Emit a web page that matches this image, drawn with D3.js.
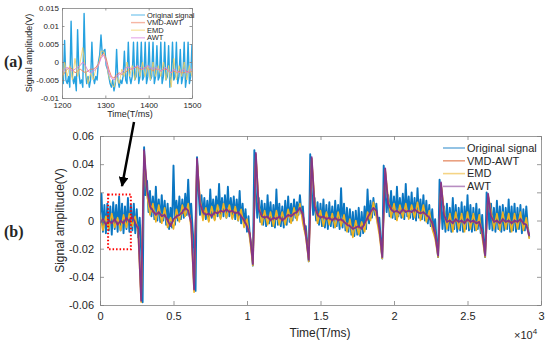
<!DOCTYPE html>
<html>
<head>
<meta charset="utf-8">
<script src="https://cdn.jsdelivr.net/npm/d3@7"></script>
<style>
  body { margin: 0; background: #fff; }
  text { font-family: "Liberation Sans", Arial, sans-serif; fill: #262626; }
  .axis text { fill: #262626; }
  .axis path, .axis line { stroke: #808080; stroke-width: 0.8; }
  .tag { font-family: "Liberation Serif", "DejaVu Serif", serif; font-weight: bold; }
</style>
</head>
<body>
<svg id="chart" width="550" height="344"></svg>
<script>
// ---- main panel (b): samples every 100 ms (original) / 200 ms (denoised)
const origStep = 100;
const origSignal = [
  0.004, 0.019, -0.008, 0.011, -0.009, 0.012, -0.007, 0.01, -0.01, 0.013,
  -0.006, 0.011, -0.008, 0.017, -0.007, 0.012, -0.009, 0.01, -0.006, 0.016,
  -0.008, 0.011, -0.007, 0.012, -0.009, 0.008, -0.012, 0.002, -0.022,
  -0.058, 0.052,
  0.018, 0.028, 0.006, 0.021, 0.003, 0.017, 0.001, 0.024, 0.0, 0.015,
  -0.001, 0.018, 0.0, 0.014, -0.003, 0.012, -0.006, 0.009, -0.005, 0.039,
  -0.003, 0.014, 0.0, 0.017, 0.001, 0.015, 0.002, 0.019, 0.004, 0.029,
  0.003, 0.012, -0.006, -0.02,
  -0.05, 0.045,
  0.022, 0.004, 0.018, 0.002, 0.016, 0.001, 0.014, 0.0, 0.022, 0.002,
  0.015, 0.001, 0.017, 0.003, 0.026, 0.002, 0.016, 0.003, 0.018, 0.002,
  0.024, 0.003, 0.016, 0.002, 0.017, 0.001, 0.015, 0.0, 0.021, -0.002,
  0.012, -0.004, 0.008, -0.008, 0.003, -0.012, -0.018,
  -0.032, 0.05,
  0.02, 0.002, 0.016, -0.001, 0.014, -0.003, 0.012, -0.004, 0.018, -0.002,
  0.013, -0.004, 0.011, -0.005, 0.022, -0.003, 0.012, -0.004, 0.01, -0.005,
  0.014, -0.003, 0.017, -0.001, 0.012, 0.0, 0.015, 0.002, 0.013, 0.004,
  0.018, 0.005, 0.01, -0.006, -0.004, -0.016,
  -0.029, 0.047,
  0.022, 0.004, 0.016, 0.0, 0.013, -0.003, 0.012, -0.004, 0.015, -0.005,
  0.011, -0.006, 0.013, -0.004, 0.01, -0.005, 0.014, -0.004, 0.011, -0.006,
  0.023, -0.005, 0.012, -0.007, 0.009, -0.008, 0.008, -0.01, 0.006, -0.011,
  0.007, -0.01, 0.009, -0.011, 0.006, -0.009, 0.01, -0.006, 0.022, -0.002,
  0.014, 0.002, 0.016, 0.004, 0.012, -0.002, 0.002, -0.014,
  -0.027, 0.039,
  0.024, 0.006, 0.018, 0.003, 0.021, 0.002, 0.017, 0.001, 0.024, 0.003,
  0.016, 0.002, 0.019, 0.001, 0.026, 0.003, 0.017, 0.002, 0.02, 0.001,
  0.016, 0.0, 0.023, 0.002, 0.015, 0.001, 0.018, 0.0, 0.014, -0.002,
  0.011, -0.004, 0.008, -0.008, 0.001, -0.015,
  -0.026, 0.029,
  0.014, -0.006, 0.01, -0.008, 0.012, -0.007, 0.009, -0.008, 0.016, -0.006,
  0.011, -0.008, 0.009, -0.007, 0.013, -0.008, 0.01, -0.006, 0.018, -0.007,
  0.011, -0.008, 0.009, -0.007, 0.012, -0.006, 0.008, -0.009, 0.004, -0.014,
  -0.026, 0.02,
  0.01, -0.006, 0.012, -0.007, 0.009, -0.008, 0.014, -0.006, 0.01, -0.008,
  0.011, -0.007, 0.009, -0.006, 0.015, -0.008, 0.01, -0.007, 0.012, -0.008,
  0.009, -0.006, 0.011, -0.009, 0.008, -0.007, 0.01, -0.004, -0.012
];

const denoiseStep = 200;
const vmdAwt = [
  -0.001, 0.0, -0.002, -0.001, -0.002, 0.0, -0.002, -0.001, -0.002, 0.001, -0.001, 0.002, -0.001, -0.005,
  -0.056, 0.049,
  0.02, 0.011, 0.006, 0.005, 0.005, 0.004, 0.003, 0.001, -0.003, 0.0, 0.002, 0.004, 0.005, 0.008, 0.008, -0.001,
  -0.048, 0.043,
  0.013, 0.007, 0.005, 0.004, 0.004, 0.005, 0.006, 0.006, 0.007, 0.007, 0.007, 0.006, 0.006, 0.005, 0.004, 0.001, -0.003, -0.009,
  -0.03, 0.047,
  0.009, 0.004, 0.002, 0.002, 0.001, 0.001, 0.002, 0.002, 0.001, 0.001, 0.003, 0.004, 0.004, 0.006, 0.008, 0.005, -0.008,
  -0.027, 0.044,
  0.011, 0.005, 0.003, 0.002, 0.002, 0.001, 0.001, 0.001, 0.001, 0.0, -0.001, -0.002, -0.004, -0.005, -0.005, -0.005, -0.005, -0.003, 0.001, 0.005, 0.008, 0.007, -0.005,
  -0.025, 0.036,
  0.013, 0.009, 0.007, 0.006, 0.006, 0.007, 0.007, 0.007, 0.006, 0.007, 0.007, 0.006, 0.005, 0.004, 0.002, -0.001, -0.008,
  -0.024, 0.026,
  0.005, 0.0, -0.001, -0.001, 0.0, -0.001, -0.001, -0.001, 0.0, -0.001, -0.001, -0.001, -0.002, -0.007,
  -0.024, 0.018,
  0.004, 0.0, -0.001, -0.001, 0.0, -0.001, -0.001, -0.001, -0.001, -0.001, 0.0, -0.002, -0.003, -0.01
];
const emd = [
  0.004, -0.007, 0.003, -0.006, 0.005, -0.005, 0.002, -0.007, 0.004, -0.005, 0.005, -0.004, 0.003, -0.01,
  -0.058, 0.049,
  0.018, 0.004, 0.012, -0.001, 0.011, -0.002, 0.009, -0.005, 0.002, -0.006, 0.008, -0.001, 0.011, 0.003, 0.012, -0.006,
  -0.051, 0.043,
  0.016, 0.0, 0.009, -0.001, 0.01, 0.0, 0.011, 0.001, 0.012, 0.002, 0.011, 0.001, 0.01, 0.0, 0.008, -0.005, 0.001, -0.014,
  -0.032, 0.047,
  0.012, -0.003, 0.007, -0.003, 0.006, -0.004, 0.007, -0.003, 0.006, -0.003, 0.008, -0.002, 0.009, 0.0, 0.012, -0.002, -0.012,
  -0.029, 0.044,
  0.014, -0.002, 0.007, -0.004, 0.006, -0.003, 0.005, -0.005, 0.006, -0.004, 0.004, -0.008, 0.001, -0.012, 0.0, -0.01, -0.001, -0.008, 0.006, 0.0, 0.013, 0.002, -0.01,
  -0.027, 0.036,
  0.016, 0.002, 0.012, 0.0, 0.011, 0.002, 0.012, 0.001, 0.011, 0.002, 0.013, 0.0, 0.011, -0.001, 0.007, -0.006, -0.013,
  -0.026, 0.026,
  0.008, -0.006, 0.005, -0.008, 0.006, -0.006, 0.005, -0.008, 0.006, -0.006, 0.005, -0.007, 0.004, -0.012,
  -0.026, 0.018,
  0.007, -0.006, 0.005, -0.007, 0.006, -0.006, 0.005, -0.008, 0.005, -0.006, 0.006, -0.007, 0.002, -0.013
];
const awt = [
  -0.002, 0.001, -0.003, 0.0, -0.002, 0.001, -0.003, 0.0, -0.002, 0.002, -0.001, 0.003, -0.002, -0.006,
  -0.057, 0.05,
  0.022, 0.01, 0.007, 0.004, 0.006, 0.003, 0.004, 0.0, -0.004, 0.001, 0.003, 0.004, 0.006, 0.009, 0.007, -0.002,
  -0.049, 0.044,
  0.012, 0.006, 0.004, 0.005, 0.003, 0.006, 0.005, 0.007, 0.006, 0.008, 0.006, 0.007, 0.005, 0.006, 0.003, 0.0, -0.004, -0.01,
  -0.031, 0.048,
  0.008, 0.003, 0.002, 0.003, 0.0, 0.002, 0.001, 0.003, 0.0, 0.002, 0.004, 0.003, 0.005, 0.006, 0.009, 0.004, -0.01,
  -0.028, 0.045,
  0.01, 0.004, 0.002, 0.003, 0.001, 0.002, 0.0, 0.002, 0.0, 0.001, -0.001, -0.003, -0.004, -0.006, -0.005, -0.004, -0.006, -0.002, 0.002, 0.006, 0.009, 0.007, -0.006,
  -0.026, 0.037,
  0.012, 0.008, 0.006, 0.007, 0.005, 0.008, 0.006, 0.007, 0.006, 0.008, 0.006, 0.005, 0.006, 0.004, 0.002, -0.002, -0.01,
  -0.025, 0.027,
  0.004, -0.001, 0.0, -0.002, 0.001, -0.001, 0.0, -0.002, 0.001, -0.001, 0.0, -0.002, -0.001, -0.008,
  -0.025, 0.019,
  0.003, -0.001, 0.0, -0.002, 0.001, -0.001, 0.0, -0.002, 0.0, -0.001, 0.001, -0.002, -0.003, -0.011
];

const xTickValues = [0, 5000, 10000, 15000, 20000, 25000, 30000];
const xTickLabels = ["0", "0.5", "1", "1.5", "2", "2.5", "3"];
const yTickValues = [-0.06, -0.04, -0.02, 0, 0.02, 0.04, 0.06];
const yTickLabels = ["-0.06", "-0.04", "-0.02", "0", "0.02", "0.04", "0.06"];
const seriesNames = ["Original signal", "VMD-AWT", "EMD", "AWT"];
const colors = ["#0a76c2", "#D95319", "#EDB120", "#7E2F8E"];
const zoomBox = { t0: 550, t1: 2100, v0: -0.0205, v1: 0.0185 };

// ---- inset panel (a): 1200..1500 ms
const insetOrigStep = 3;
const insetOrig = [
  -0.004, -0.006, 0.006, -0.005, -0.006, -0.004, -0.007, 0.0113, -0.004, -0.006,
  -0.004, -0.008, 0.009, -0.003, -0.006, -0.005, -0.007, 0.0135, -0.002, -0.006,
  -0.004, -0.007, -0.005, 0.0055, -0.004, -0.006, -0.004, -0.005, 0.0, 0.002,
  0.0075, 0.002, 0.003, 0.0035, -0.001, -0.002, -0.004, -0.006, -0.007, -0.005,
  -0.008, -0.006, 0.0035, -0.005, -0.007, -0.005, -0.006, -0.004, 0.003, -0.005,
  -0.006, 0.0055, -0.004, -0.006, -0.004, 0.0055, -0.005, -0.004, 0.0055, -0.006,
  -0.004, 0.0055, -0.005, -0.004, 0.0055, -0.006, -0.004, 0.0055, -0.005, -0.004,
  0.0055, -0.006, -0.004, 0.0045, -0.005, -0.004, 0.0055, -0.006, -0.004, 0.0055,
  -0.005, -0.004, 0.0045, -0.007, -0.004, 0.0055, -0.005, -0.004, 0.0055, -0.006,
  -0.004, 0.0035, -0.006, -0.004, 0.0055, -0.007, -0.004, 0.0055, -0.006, -0.004,
  0.005
];
const insetStep = 6;
const insetVmdAwt = [
  -0.004, -0.003, -0.002, -0.0015, -0.002, -0.003, -0.0025, -0.002, -0.0025, -0.003,
  -0.0025, -0.002, -0.002, -0.0015, -0.0005, 0.0015, 0.0025, 0.001, -0.002, -0.004,
  -0.0045, -0.0035, -0.003, -0.0035, -0.003, -0.0025, -0.002, -0.002, -0.0015, -0.0015,
  -0.002, -0.002, -0.0015, -0.002, -0.002, -0.0025, -0.002, -0.002, -0.0025, -0.002,
  -0.002, -0.0025, -0.003, -0.0025, -0.003, -0.0025, -0.003, -0.003, -0.0025, -0.003,
  -0.0025
];
const insetEmd = [
  -0.006, 0.0, -0.004, -0.001, -0.005, 0.001, -0.004, 0.0, 0.004, -0.002,
  -0.006, -0.003, -0.005, -0.002, -0.001, 0.003, 0.003, 0.0, -0.004, -0.006,
  -0.007, -0.004, -0.006, -0.002, -0.004, 0.0, -0.004, -0.001, -0.005, -0.001,
  -0.004, 0.0, -0.004, -0.001, -0.005, 0.0, -0.004, -0.001, -0.004, 0.0,
  -0.005, -0.001, -0.007, 0.001, -0.005, -0.001, -0.004, 0.0, -0.005, -0.001,
  -0.004
];
const insetAwt = [
  -0.003, -0.002, -0.0015, -0.002, -0.0025, -0.002, -0.0015, -0.001, 0.0, -0.001,
  -0.0025, -0.003, -0.0025, -0.002, -0.001, 0.001, 0.002, 0.0, -0.003, -0.0045,
  -0.005, -0.004, -0.0035, -0.003, -0.002, -0.0015, -0.0015, -0.002, -0.0015, -0.001,
  -0.0015, -0.002, -0.0015, -0.001, -0.0015, -0.002, -0.0015, -0.002, -0.0025, -0.002,
  -0.0015, -0.0025, -0.003, -0.002, -0.0025, -0.003, -0.0025, -0.002, -0.003, -0.0025,
  -0.002
];
const insetXTicks = [1200, 1300, 1400, 1500];
const insetYTicks = [-0.01, -0.005, 0, 0.005, 0.01, 0.015];
const insetYLabels = ["-0.01", "-0.005", "0", "0.005", "0.01", "0.015"];

const svg = d3.select("#chart");

function drawPanel(cfg) {
  const x = d3.scaleLinear().domain(cfg.xDomain).range([cfg.left, cfg.right]);
  const y = d3.scaleLinear().domain(cfg.yDomain).range([cfg.bottom, cfg.top]);
  const g = svg.append("g");

  g.append("clipPath").attr("id", cfg.id + "-clip")
    .append("rect")
    .attr("x", cfg.left).attr("y", cfg.top)
    .attr("width", cfg.right - cfg.left).attr("height", cfg.bottom - cfg.top);

  const lines = g.append("g").attr("clip-path", `url(#${cfg.id}-clip)`);
  const line = d3.line().x(d => x(d[0])).y(d => y(d[1]));
  cfg.series.forEach((s, i) => {
    const pts = s.values.map((v, j) => [cfg.x0 + j * s.step, v]);
    lines.append("path")
      .attr("d", line(pts))
      .attr("fill", "none")
      .attr("stroke", cfg.colors[i])
      .attr("stroke-opacity", cfg.opacity[i])
      .attr("stroke-width", cfg.widths[i])
      .attr("stroke-linejoin", "round");
  });

  const ts = cfg.tickSize;
  g.append("g").attr("class", "axis")
    .attr("transform", `translate(0,${cfg.bottom})`)
    .call(d3.axisBottom(x).tickValues(cfg.xTicks).tickFormat((d, i) => cfg.xLabels[i])
      .tickSize(-ts).tickSizeOuter(0).tickPadding(cfg.pad))
    .selectAll("text").style("font-size", cfg.font + "px");
  g.append("g").attr("class", "axis")
    .attr("transform", `translate(${cfg.left},0)`)
    .call(d3.axisLeft(y).tickValues(cfg.yTicks).tickFormat((d, i) => cfg.yLabels[i])
      .tickSize(-ts).tickSizeOuter(0).tickPadding(cfg.pad - 1))
    .selectAll("text").style("font-size", cfg.font + "px");
  g.append("g").attr("class", "axis")
    .attr("transform", `translate(0,${cfg.top})`)
    .call(d3.axisTop(x).tickValues(cfg.xTicks).tickFormat("").tickSize(-ts).tickSizeOuter(0));
  g.append("g").attr("class", "axis")
    .attr("transform", `translate(${cfg.right},0)`)
    .call(d3.axisRight(y).tickValues(cfg.yTicks).tickFormat("").tickSize(-ts).tickSizeOuter(0));

  // legend
  const lg = g.append("g");
  cfg.series.forEach((s, i) => {
    const ly = cfg.legend.y + i * cfg.legend.dy;
    lg.append("line")
      .attr("x1", cfg.legend.x).attr("x2", cfg.legend.x + cfg.legend.len)
      .attr("y1", ly).attr("y2", ly)
      .attr("stroke", cfg.colors[i]).attr("stroke-opacity", 0.55)
      .attr("stroke-width", cfg.legend.w);
    lg.append("text")
      .attr("x", cfg.legend.x + cfg.legend.len + 2).attr("y", ly)
      .attr("dy", "0.35em")
      .style("font-size", cfg.legend.font + "px")
      .text(seriesNames[i]);
  });

  g.append("text")
    .attr("x", cfg.xTitleX).attr("y", cfg.xTitleY)
    .attr("text-anchor", "middle").style("font-size", cfg.titleFont + "px")
    .text("Time(T/ms)");
  g.append("text")
    .attr("transform", `translate(${cfg.yTitleX},${(cfg.top + cfg.bottom) / 2}) rotate(-90)`)
    .attr("text-anchor", "middle").style("font-size", cfg.titleFont + "px")
    .text("Signal amplitude(V)");

  return { x, y, g };
}

const main = drawPanel({
  id: "main", left: 100, right: 541, top: 136, bottom: 305,
  xDomain: [0, 30000], yDomain: [-0.06, 0.06], x0: 0,
  series: [
    { values: origSignal, step: origStep },
    { values: vmdAwt, step: denoiseStep },
    { values: emd, step: denoiseStep },
    { values: awt, step: denoiseStep }
  ],
  colors, opacity: [1, 1, 1, 0.95], widths: [1.9, 1.4, 1.6, 1.8],
  xTicks: xTickValues, xLabels: xTickLabels, yTicks: yTickValues, yLabels: yTickLabels,
  tickSize: 4, pad: 7, font: 11, titleFont: 12,
  legend: { x: 443, y: 148, dy: 12.8, len: 22, w: 1.6, font: 11 },
  xTitleX: 320, xTitleY: 337, yTitleX: 64
});

// x10^4 exponent
const expo = svg.append("text").attr("x", 514).attr("y", 339).style("font-size", "11px");
expo.append("tspan").text("\u00d710");
expo.append("tspan").attr("dy", -5).style("font-size", "8px").text("4");

// dotted zoom box
svg.append("rect")
  .attr("x", main.x(zoomBox.t0)).attr("y", main.y(zoomBox.v1))
  .attr("width", main.x(zoomBox.t1) - main.x(zoomBox.t0))
  .attr("height", main.y(zoomBox.v0) - main.y(zoomBox.v1))
  .attr("fill", "none").attr("stroke", "#ff0000")
  .attr("stroke-width", 2).attr("stroke-dasharray", "1.5,2");

const inset = drawPanel({
  id: "inset", left: 62, right: 192, top: 8, bottom: 98,
  xDomain: [1200, 1500], yDomain: [-0.01, 0.015], x0: 1200,
  series: [
    { values: insetOrig, step: insetOrigStep },
    { values: insetVmdAwt, step: insetStep },
    { values: insetEmd, step: insetStep },
    { values: insetAwt, step: insetStep }
  ],
  colors: ["#27a2e0", "#ef7a5a", "#f3d060", "#d77fdc"],
  opacity: [1, 0.9, 0.8, 0.9], widths: [1.4, 1, 1, 1],
  xTicks: insetXTicks, xLabels: insetXTicks.map(String), yTicks: insetYTicks, yLabels: insetYLabels,
  tickSize: 2.5, pad: 4, font: 8, titleFont: 9,
  legend: { x: 131, y: 15, dy: 7.6, len: 14, w: 1.4, font: 7.5 },
  xTitleX: 130, xTitleY: 117, yTitleX: 32
});

// arrow from inset to the zoom box
svg.append("defs").append("marker")
  .attr("id", "head").attr("viewBox", "0 0 10 10")
  .attr("refX", 9).attr("refY", 5)
  .attr("markerWidth", 4).attr("markerHeight", 4)
  .attr("orient", "auto")
  .append("path").attr("d", "M0,0L10,5L0,10Z").attr("fill", "#000");
svg.append("line")
  .attr("x1", 134).attr("y1", 122).attr("x2", 122).attr("y2", 186)
  .attr("stroke", "#000").attr("stroke-width", 2.5)
  .attr("marker-end", "url(#head)");

// panel tags
svg.append("text").attr("class", "tag").attr("x", 4).attr("y", 67)
  .style("font-size", "16px").text("(a)");
svg.append("text").attr("class", "tag").attr("x", 4).attr("y", 237)
  .style("font-size", "16px").text("(b)");
</script>
</body>
</html>
